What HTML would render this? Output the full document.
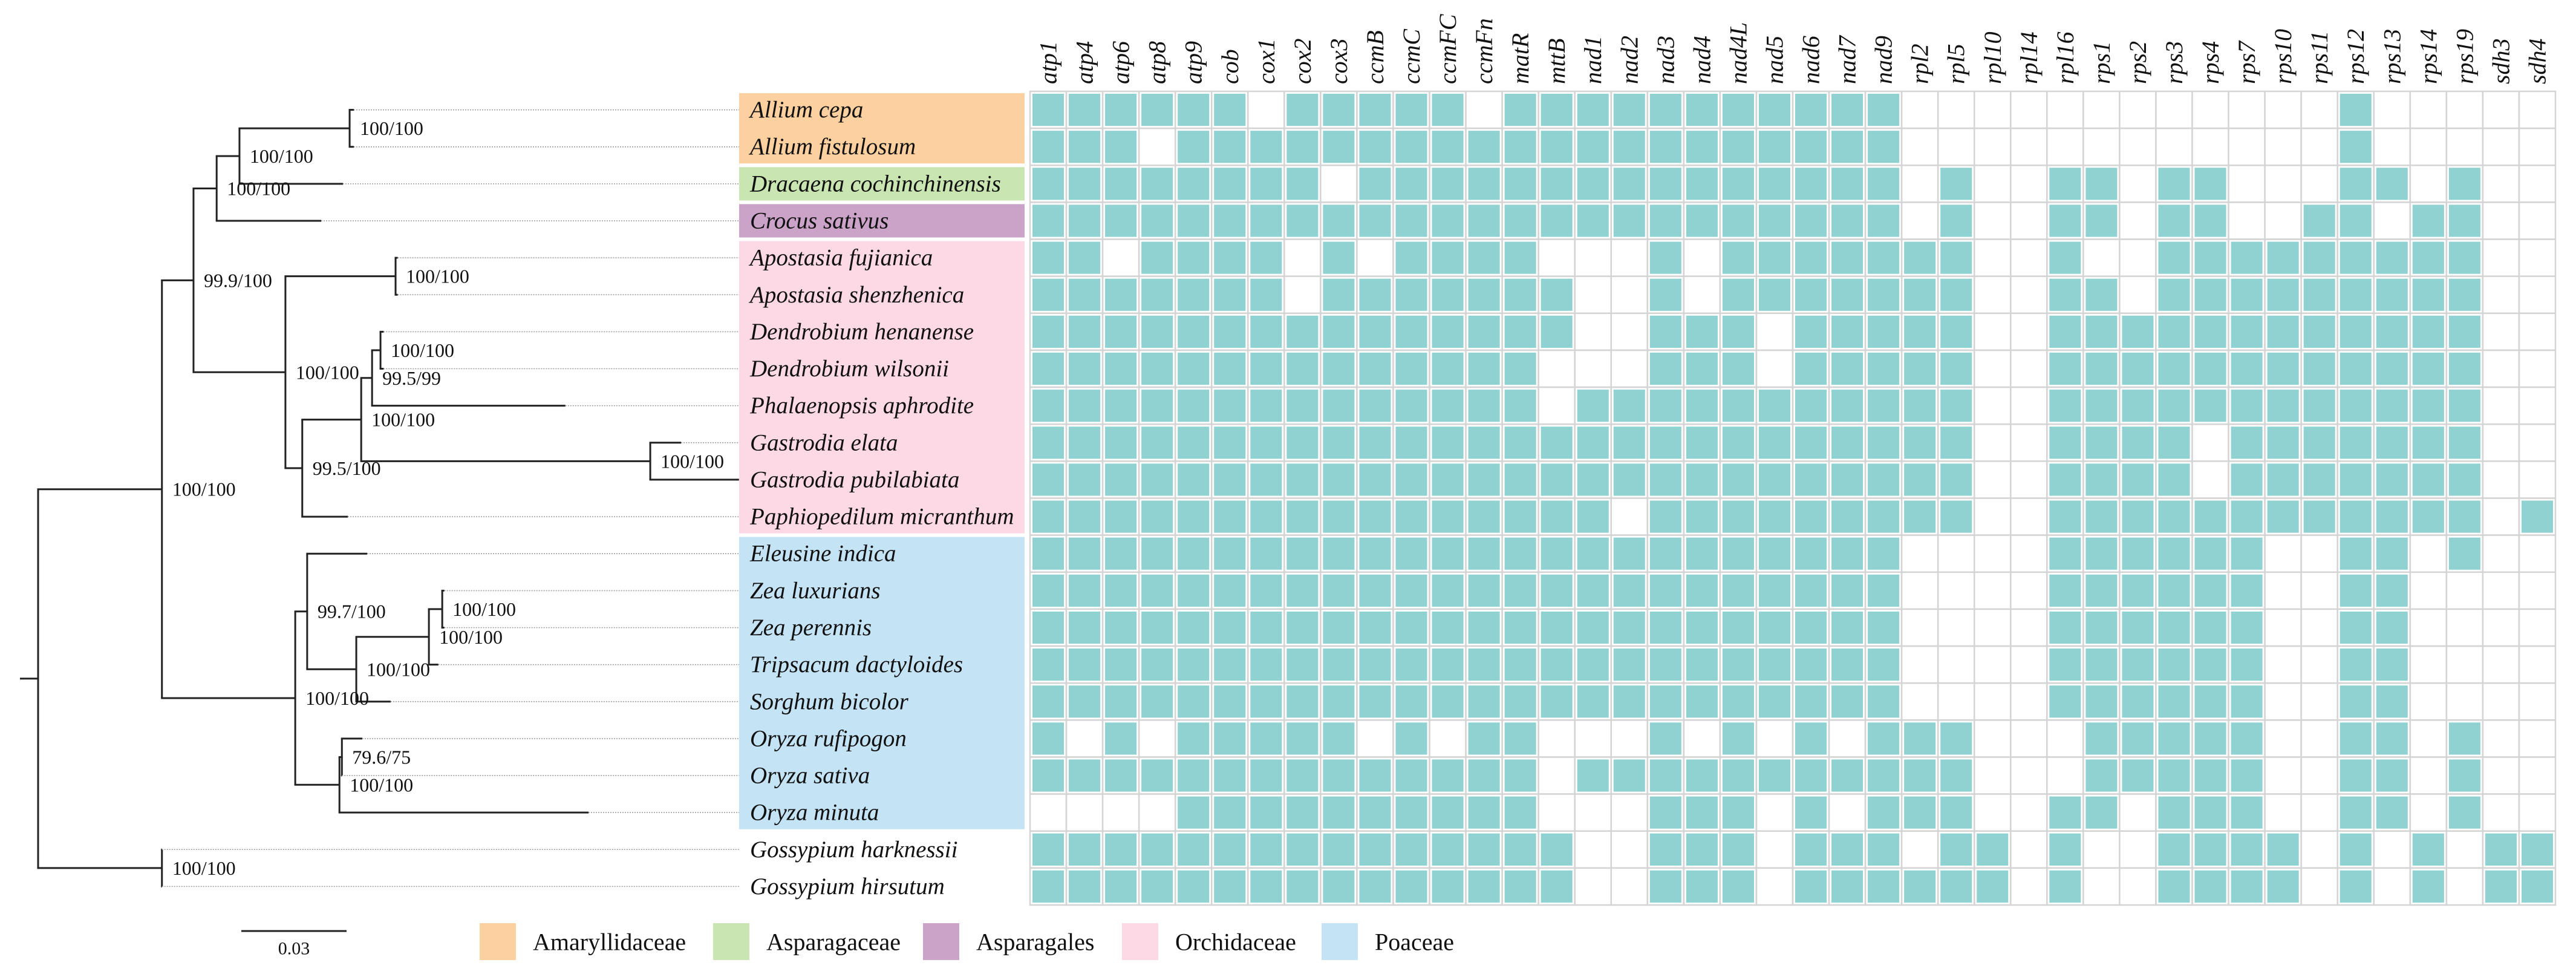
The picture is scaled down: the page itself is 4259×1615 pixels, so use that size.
<!DOCTYPE html>
<html><head><meta charset="utf-8">
<style>
html,body{margin:0;padding:0;background:#fff;}
svg{display:block;font-family:"Liberation Serif",serif;}
</style></head>
<body>
<svg id="fig" width="4259" height="1615" viewBox="0 0 4259 1615" xmlns="http://www.w3.org/2000/svg">
<g id="groups"></g><g id="tree"></g><g id="labels"></g><g id="heat"></g><g id="headers"></g><g id="legend"></g>
</svg>
<script>
const genes = ["atp1","atp4","atp6","atp8","atp9","cob","cox1","cox2","cox3","ccmB","ccmC","ccmFC","ccmFn","matR","mttB","nad1","nad2","nad3","nad4","nad4L","nad5","nad6","nad7","nad9","rpl2","rpl5","rpl10","rpl14","rpl16","rps1","rps2","rps3","rps4","rps7","rps10","rps11","rps12","rps13","rps14","rps19","sdh3","sdh4"];
const species = ["Allium cepa","Allium fistulosum","Dracaena cochinchinensis","Crocus sativus","Apostasia fujianica","Apostasia shenzhenica","Dendrobium henanense","Dendrobium wilsonii","Phalaenopsis aphrodite","Gastrodia elata","Gastrodia pubilabiata","Paphiopedilum micranthum","Eleusine indica","Zea luxurians","Zea perennis","Tripsacum dactyloides","Sorghum bicolor","Oryza rufipogon","Oryza sativa","Oryza minuta","Gossypium harknessii","Gossypium hirsutum"];
const presence = [
"111111011111011111111"+"111000000000000100000",
"111011111111111111111"+"111000000000000100000",
"111111110111111111111"+"111010011011000110100",
"111111111111111111111"+"111010011011001101100",
"110111101011110001011"+"111110010011111111100",
"111111101111111001011"+"111110011011111111100",
"111111111111111001110"+"111110011111111111100",
"111111111111110001110"+"111110011111111111100",
"111111111111110111111"+"111110011111111111100",
"111111111111111111111"+"111110011110111111100",
"111111111111111111111"+"111110011110111111100",
"111111111111111101111"+"111110011111111111101",
"111111111111111111111"+"111000011111100110100",
"111111111111111111111"+"111000011111100110000",
"111111111111111111111"+"111000011111100110000",
"111111111111111111111"+"111000011111100110000",
"111111111111111111111"+"111000011111100110000",
"101011111010110001010"+"101110001111100110100",
"111111111111110111111"+"111110001111100110100",
"000011111111110001110"+"101110011011100110100",
"111111111111111001110"+"111011010011110101011",
"111111111111111001110"+"111111010011110101011"
];
const groupNames = ["Amaryllidaceae","Asparagaceae","Asparagales","Orchidaceae","Poaceae"];
const groupColors = ["#FDD0A0","#C9E5B1","#CBA3C8","#FDD8E5","#C4E3F5"];
const groupRows = [[0,1],[2,2],[3,3],[4,11],[12,19]];
const tree = {d:0,ch:[
 {d:0.0353,s:"100/100",ch:[
  {d:0.0443,s:"99.9/100",ch:[
   {d:0.0509,s:"100/100",ch:[
    {d:0.0574,s:"100/100",ch:[
     {d:0.0888,s:"100/100",ch:[{d:0.0900,r:0},{d:0.0900,r:1}]},
     {d:0.0869,r:2}]},
    {d:0.0807,r:3}]},
   {d:0.0705,s:"100/100",ch:[
    {d:0.1019,s:"100/100",ch:[{d:0.1025,r:4},{d:0.1025,r:5}]},
    {d:0.0753,s:"99.5/100",ch:[
     {d:0.0921,s:"100/100",ch:[
      {d:0.0952,s:"99.5/99",ch:[
       {d:0.0976,s:"100/100",ch:[{d:0.0985,r:6},{d:0.0985,r:7}]},
       {d:0.1503,r:8}]},
      {d:0.1745,s:"100/100",ch:[{d:0.1833,r:9},{d:0.1998,r:10}]}]},
     {d:0.0883,r:11}]}]}]},
  {d:0.0733,s:"100/100",ch:[
   {d:0.0767,s:"99.7/100",ch:[
    {d:0.0938,r:12},
    {d:0.0907,s:"100/100",ch:[
     {d:0.1114,s:"100/100",ch:[
      {d:0.1152,s:"100/100",ch:[{d:0.1158,r:13},{d:0.1158,r:14}]},
      {d:0.1141,r:15}]},
     {d:0.1005,r:16}]}]},
   {d:0.0859,s:"100/100",ch:[
    {d:0.0866,s:"79.6/75",ch:[{d:0.0924,r:17},{d:0.0866,r:18}]},
    {d:0.1569,r:19}]}]}]},
 {d:0.0353,s:"100/100",ch:[{d:0.0353,r:20},{d:0.0353,r:21}]}
]};
const scaleBarValue = 0.03;

const NS="http://www.w3.org/2000/svg";
function mk(tag,attrs,parent,text){const e=document.createElementNS(NS,tag);for(const k in attrs)e.setAttribute(k,attrs[k]);if(text!==undefined)e.textContent=text;parent.appendChild(e);return e;}
const heatX0=1703, heatY0=151, cellW=(4225-1703)/genes.length, cellH=(1496-151)/species.length;
const rowY = i => heatY0 + cellH*(i+0.5);
const colX = j => heatX0 + cellW*(j+0.5);
const treeX = d => 63 + d*5800;
const labelLeft=1222, labelRight=1694;

const gG=document.getElementById('groups');
groupRows.forEach((gr,k)=>{
 const y0=rowY(gr[0])-cellH/2+3, y1=rowY(gr[1])+cellH/2-3;
 const r=mk('rect',{x:labelLeft,y:y0,width:labelRight-labelLeft,height:y1-y0,fill:groupColors[k]},gG);
 
 
});

const gT=document.getElementById('tree');
function layout(n){ if(n.ch){n.ch.forEach(layout); n.y=(n.ch[0].y+n.ch[n.ch.length-1].y)/2;} else n.y=rowY(n.r); }
layout(tree);
function draw(n){
 if(!n.ch) return;
 const x=treeX(n.d);
 const v=mk('line',{x1:x,y1:n.ch[0].y,x2:x,y2:n.ch[n.ch.length-1].y,stroke:'#222','stroke-width':3},gT);
 
 
 n.ch.forEach(c=>{
  const h=mk('line',{x1:x-1.5,y1:c.y,x2:treeX(c.d),y2:c.y,stroke:'#222','stroke-width':3},gT);
  
  
  if(!c.ch){
   const dl=mk('line',{x1:treeX(c.d),y1:c.y,x2:labelLeft,y2:c.y,stroke:'#999','stroke-width':1.5,'stroke-dasharray':'2,2'},gT);
   
   
  }
  draw(c);
 });
 if(n.s){
  const t=mk('text',{x:x+17,y:n.y,'font-size':32,'dominant-baseline':'central',fill:'#111'},gT,n.s);
  
  
 }
}
draw(tree);
const root=mk('line',{x1:33,y1:tree.y,x2:63,y2:tree.y,stroke:'#222','stroke-width':3},gT);



const gL=document.getElementById('labels');
species.forEach((s,i)=>{
 const t=mk('text',{x:1240,y:rowY(i),'font-size':39,'font-style':'italic','dominant-baseline':'central',fill:'#111'},gL,s);
 
 
});

const gH=document.getElementById('heat');
species.forEach((s,i)=>{
 genes.forEach((g,j)=>{
  const x=heatX0+cellW*j, y=heatY0+cellH*i;
  const c=mk('rect',{x:x,y:y,width:cellW,height:cellH,fill:'#fff',stroke:'#d4d4d4','stroke-width':2.5},gH);
  
  
  if(presence[i][j]==='1'){
   const f=mk('rect',{x:x+4,y:y+4,width:cellW-8,height:cellH-8,fill:'#90D1D1'},gH);
   
   
  }
 });
});

const gHd=document.getElementById('headers');
genes.forEach((g,j)=>{
 const x=colX(j), y=139;
 const t=mk('text',{x:x,y:y,'font-size':40,'font-style':'italic','dominant-baseline':'central',transform:`rotate(-90 ${x} ${y})`,fill:'#111'},gHd,g);
 
 
});

const gLg=document.getElementById('legend');
const sb=mk('line',{x1:399,y1:1539,x2:399+scaleBarValue*5800,y2:1539,stroke:'#222','stroke-width':3},gLg);


const sbt=mk('text',{x:399+scaleBarValue*2900,y:1568,'font-size':30,'text-anchor':'middle','dominant-baseline':'central',fill:'#111'},gLg,String(scaleBarValue));


const legX=[793,1179,1526,1855,2185];
groupNames.forEach((n,k)=>{
 const r=mk('rect',{x:legX[k],y:1526,width:60,height:61,fill:groupColors[k]},gLg);
 
 
 const t=mk('text',{x:legX[k]+88,y:1557,'font-size':40,'dominant-baseline':'central',fill:'#111'},gLg,n);
 
 
});
</script>
</body></html>
